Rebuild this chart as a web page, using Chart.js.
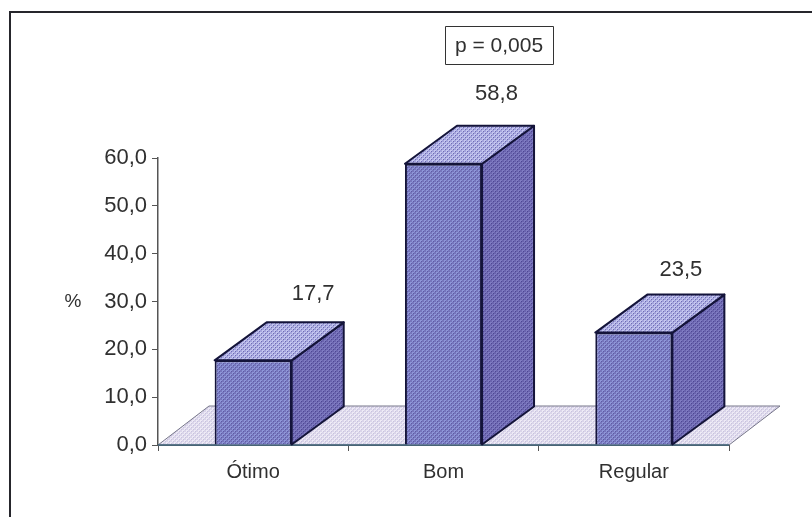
<!DOCTYPE html>
<html>
<head>
<meta charset="utf-8">
<style>html,body{margin:0;padding:0;background:#fff}canvas{display:block}</style>
<script src="https://cdn.jsdelivr.net/npm/chart.js@4"></script>
</head>
<body>
<canvas id="c" width="812" height="517"></canvas>
<script>
const categories = ["Ótimo", "Bom", "Regular"];
const values = [17.7, 58.8, 23.5];
const yTicks = [0, 10, 20, 30, 40, 50, 60];
const yAxisLabel = "%";
const note = "p = 0,005";
const fmt = v => v.toFixed(1).replace(".", ",");
const FONT = '"Liberation Sans", Arial, sans-serif';
const DEPTH_X = 52, DEPTH_Y = 38, INK = "#14143a", TEXT = "#303030";
const labelShiftX = [60, 53, 47];
const labelShiftY = [-66, -70, -63];

function pattern(base, dot, alt) {
  const p = document.createElement("canvas");
  p.width = p.height = 4;
  const g = p.getContext("2d");
  g.fillStyle = base; g.fillRect(0, 0, 4, 4);
  g.fillStyle = dot; g.fillRect(0, 0, 2, 2); g.fillRect(2, 2, 2, 2);
  g.fillStyle = alt; g.fillRect(1, 1, 1, 1); g.fillRect(3, 3, 1, 1);
  return document.getElementById("c").getContext("2d").createPattern(p, "repeat");
}
const frontFill = pattern("#7676bc", "#8e96d8", "#5f5aa6");
const topFill = pattern("#a3a3dc", "#c6c8f0", "#6f6cb4");
const sideFill = pattern("#6a64ae", "#7f7cc2", "#4e4794");
const floorFill = pattern("#dad5ea", "#eeebf6", "#c8c3de");

function poly(ctx, pts, fill, stroke, lw) {
  ctx.beginPath();
  pts.forEach((q, i) => i ? ctx.lineTo(q[0], q[1]) : ctx.moveTo(q[0], q[1]));
  ctx.closePath();
  if (fill) { ctx.fillStyle = fill; ctx.fill(); }
  if (stroke) { ctx.strokeStyle = stroke; ctx.lineWidth = lw; ctx.lineJoin = "round"; ctx.stroke(); }
}

const decor = {
  id: "decor",
  beforeDraw(chart) {
    const ctx = chart.ctx;
    ctx.save();
    ctx.strokeStyle = "#26262c"; ctx.lineWidth = 2;
    ctx.beginPath();
    ctx.moveTo(10, 517); ctx.lineTo(10, 12); ctx.lineTo(812, 12);
    ctx.stroke();
    ctx.restore();
  },
  beforeDatasetsDraw(chart) {
    const ctx = chart.ctx, a = chart.chartArea;
    ctx.save();
    poly(ctx, [[a.left, a.bottom], [a.left + DEPTH_X - 1, a.bottom - DEPTH_Y - 1], [a.right + DEPTH_X - 1, a.bottom - DEPTH_Y - 1], [a.right, a.bottom]], floorFill, "#77778a", 1);
    ctx.strokeStyle = "#3f6478"; ctx.lineWidth = 1.5;
    ctx.beginPath(); ctx.moveTo(a.left, a.bottom); ctx.lineTo(a.right, a.bottom); ctx.stroke();
    ctx.restore();
  },
  afterDatasetsDraw(chart) {
    const ctx = chart.ctx;
    ctx.save();
    chart.getDatasetMeta(0).data.forEach((b, i) => {
      const l = b.x - b.width / 2, r = b.x + b.width / 2, t = b.y, m = b.base;
      poly(ctx, [[r, t], [r + DEPTH_X, t - DEPTH_Y], [r + DEPTH_X, m - DEPTH_Y], [r, m]], sideFill, INK, 2);
      poly(ctx, [[l, t], [l + DEPTH_X, t - DEPTH_Y], [r + DEPTH_X, t - DEPTH_Y], [r, t]], topFill, INK, 2);
      ctx.fillStyle = TEXT; ctx.font = "22px " + FONT;
      ctx.textAlign = "center"; ctx.textBaseline = "middle";
      ctx.fillText(fmt(values[i]), b.x + labelShiftX[i], t + labelShiftY[i]);
    });
    ctx.fillStyle = TEXT; ctx.font = "19px " + FONT;
    ctx.textAlign = "center"; ctx.textBaseline = "middle";
    ctx.fillText(yAxisLabel, 73, chart.scales.y.getPixelForValue(30));
    ctx.font = "21px " + FONT;
    ctx.fillText(note, 499, 46);
    ctx.strokeStyle = "#333"; ctx.lineWidth = 1;
    ctx.strokeRect(445.5, 26.5, 108, 38);
    ctx.restore();
  }
};

new Chart(document.getElementById("c"), {
  type: "bar",
  data: {
    labels: categories,
    datasets: [{
      data: values,
      backgroundColor: frontFill,
      borderColor: INK,
      borderWidth: 2,
      barPercentage: 1,
      categoryPercentage: 0.405
    }]
  },
  plugins: [decor],
  options: {
    responsive: false,
    animation: false,
    layout: { padding: { left: 70, top: 158, right: 83, bottom: 32 } },
    plugins: { legend: { display: false }, title: { display: false }, tooltip: { enabled: false } },
    scales: {
      x: {
        afterFit: s => { s.height = 40; },
        border: { color: "#555", width: 1 },
        grid: { drawOnChartArea: false, tickLength: 6, color: "#555", offset: true },
        ticks: { color: TEXT, font: { family: FONT, size: 20 }, padding: 9, maxRotation: 0 }
      },
      y: {
        min: 0, max: 60,
        afterFit: s => { s.width = 88; },
        afterBuildTicks: s => { s.ticks = yTicks.map(v => ({ value: v })); },
        border: { color: "#555", width: 1.5 },
        grid: { drawOnChartArea: false, tickLength: 6, color: "#555" },
        ticks: { color: TEXT, font: { family: FONT, size: 22 }, padding: 5, callback: v => fmt(v) }
      }
    }
  }
});
</script>
</body>
</html>
